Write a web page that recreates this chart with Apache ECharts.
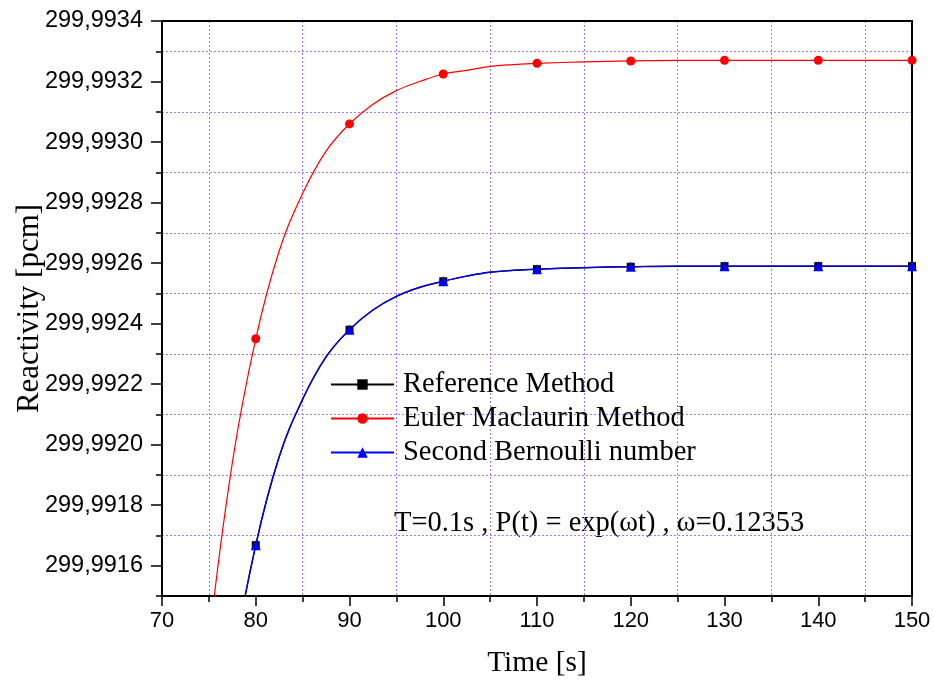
<!DOCTYPE html>
<html>
<head>
<meta charset="utf-8">
<script src="https://cdn.jsdelivr.net/npm/echarts@6/dist/echarts.min.js"></script>
<style>
html,body{margin:0;padding:0;background:#fff;}
#chart{width:934px;height:683px;}
</style>
</head>
<body>
<div id="chart"></div>
<script>
// ---- data (curve read every 2.5 s on the steep part, markers every 10 s) ----
const time = [70, 72.5, 75, 77.5, 80, 82.5, 85, 87.5, 90, 92.5, 95, 97.5, 100, 102.5, 105, 107.5, 110, 115, 120, 125, 130, 135, 140, 145, 150];
const referenceMethod = [299.98855, 299.98980, 299.99066, 299.99126, 299.991668, 299.99196, 299.99215, 299.99229, 299.99238, 299.992445, 299.99249, 299.99252, 299.99254, 299.992557, 299.99257, 299.992576, 299.99258, 299.992585, 299.992588, 299.99259, 299.99259, 299.99259, 299.99259, 299.99259, 299.99259];
const eulerMaclaurin = [299.98923, 299.99048, 299.99134, 299.99194, 299.99235, 299.99264, 299.99283, 299.99297, 299.99306, 299.993125, 299.99317, 299.99320, 299.993225, 299.993237, 299.99325, 299.993256, 299.99326, 299.993265, 299.993268, 299.99327, 299.99327, 299.99327, 299.99327, 299.99327, 299.99327];
const secondBernoulli = [299.98855, 299.98980, 299.99066, 299.99126, 299.991668, 299.99196, 299.99215, 299.99229, 299.99238, 299.992445, 299.99249, 299.99252, 299.99254, 299.992557, 299.99257, 299.992576, 299.99258, 299.992585, 299.992588, 299.99259, 299.99259, 299.99259, 299.99259, 299.99259, 299.99259];
const seriesNames = ['Reference Method', 'Euler Maclaurin Method', 'Second Bernoulli number'];
const xTicks = { min: 70, max: 150, step: 10 };
const yTicks = { min: 299.9915, max: 299.9934, step: 0.0002 };
const annotation = 'T=0.1s , P(t) = exp(\u03c9t) , \u03c9=0.12353';

const pairs = (ys) => time.map((t, i) => [t, ys[i]]);
const markAt10 = (size) => (v) => (v[0] % 10 === 0 ? size : 0);

const serif = 'Liberation Serif, Times New Roman, serif';
const sans = 'Liberation Sans, Arial, sans-serif';
const gridColor = '#a678f2';

const chart = echarts.init(document.getElementById('chart'), null, { renderer: 'canvas' });
chart.setOption({
  animation: false,
  backgroundColor: '#fff',
  grid: { left: 162, right: 22, top: 21, bottom: 85, containLabel: false },
  legend: {
    orient: 'vertical',
    left: 330, top: 370, padding: 0,
    itemWidth: 63, itemHeight: 13, itemGap: 5,
    textStyle: { fontFamily: serif, fontSize: 28.5, color: '#000', padding: [0, 0, 0, 4] },
    data: seriesNames
  },
  xAxis: [{
    type: 'value', min: xTicks.min, max: xTicks.max, interval: xTicks.step,
    name: 'Time [s]', nameLocation: 'middle', nameGap: 52,
    nameTextStyle: { fontFamily: serif, fontSize: 29.5, color: '#000' },
    axisLine: { show: true, onZero: false, lineStyle: { color: '#000', width: 2 } },
    axisTick: { show: true, inside: false, length: 10, lineStyle: { color: '#000', width: 1.5 } },
    minorTick: { show: true, splitNumber: 2, length: 6, lineStyle: { color: '#000', width: 1.5 } },
    axisLabel: { fontFamily: sans, fontSize: 22, color: '#000', margin: 14 },
    splitLine: { show: false },
    minorSplitLine: { show: true, lineStyle: { color: gridColor, width: 1, type: [2, 2] } }
  }, {
    type: 'value', position: 'top', min: xTicks.min, max: xTicks.max,
    axisLine: { show: true, onZero: false, lineStyle: { color: '#000', width: 2 } },
    axisTick: { show: false }, axisLabel: { show: false }, splitLine: { show: false }
  }],
  yAxis: [{
    type: 'value', min: yTicks.min, max: yTicks.max, interval: yTicks.step,
    name: 'Reactivity [pcm]', nameLocation: 'middle', nameGap: 117, nameRotate: 90,
    nameTextStyle: { fontFamily: serif, fontSize: 31, color: '#000' },
    axisLine: { show: true, onZero: false, lineStyle: { color: '#000', width: 2 } },
    axisTick: { show: true, inside: false, length: 6, lineStyle: { color: '#000', width: 1.5 } },
    minorTick: { show: true, splitNumber: 2, length: 11, lineStyle: { color: '#000', width: 1.5 } },
    axisLabel: { show: false },
    splitLine: { show: true, lineStyle: { color: gridColor, width: 1, type: [2, 2] } }
  }, {
    type: 'value', position: 'left', min: yTicks.min, max: yTicks.max, interval: yTicks.step / 2,
    axisLine: { show: false }, axisTick: { show: false }, splitLine: { show: false },
    axisLabel: {
      fontFamily: sans, fontSize: 23.5, color: '#000', margin: 19,
      formatter: (v) => (Math.round(v * 10000) % 2 === 0 ? v.toFixed(4).replace('.', ',') : '')
    }
  }, {
    type: 'value', position: 'right', min: yTicks.min, max: yTicks.max,
    axisLine: { show: true, onZero: false, lineStyle: { color: '#000', width: 2 } },
    axisTick: { show: false }, axisLabel: { show: false }, splitLine: { show: false }
  }],
  graphic: [{
    type: 'text', left: 394, top: 509,
    style: { text: annotation, fontFamily: serif, fontSize: 28.5, fill: '#000' }
  }],
  series: [{
    name: seriesNames[0], type: 'line', data: pairs(referenceMethod),
    smooth: 0.4, symbol: 'rect', symbolSize: markAt10(8), showAllSymbol: true,
    lineStyle: { color: '#000', width: 1.5 }, itemStyle: { color: '#000' }, z: 2
  }, {
    name: seriesNames[1], type: 'line', data: pairs(eulerMaclaurin),
    smooth: 0.4, symbol: 'circle', symbolSize: markAt10(9), showAllSymbol: true,
    lineStyle: { color: '#ff0000', width: 1.2 }, itemStyle: { color: '#ff0000' }, z: 3
  }, {
    name: seriesNames[2], type: 'line', data: pairs(secondBernoulli),
    smooth: 0.4, symbol: 'triangle', symbolSize: markAt10(10), showAllSymbol: true,
    lineStyle: { color: '#0000ff', width: 1.2 }, itemStyle: { color: '#0000ff' }, z: 4
  }]
});
</script>
</body>
</html>
